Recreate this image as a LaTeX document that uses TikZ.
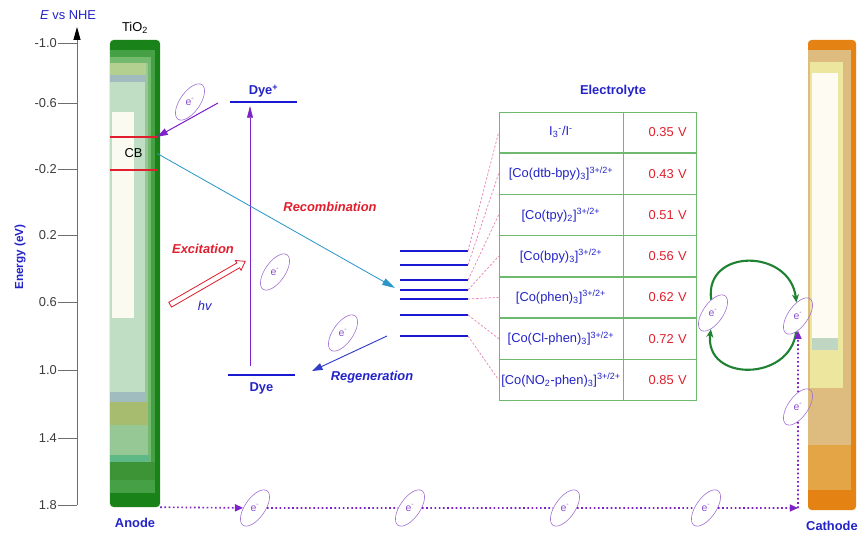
\documentclass[tikz,border=0pt]{standalone}
\usepackage{fontspec}
\setmainfont{Liberation Sans}
\usetikzlibrary{arrows.meta,positioning,shapes.geometric,shapes.arrows}
\definecolor{LabelBlue}{RGB}{35,35,200}
\definecolor{LabelRed}{RGB}{225,30,45}
\definecolor{LevelBlue}{RGB}{25,25,210}
\definecolor{RegenBlue}{RGB}{50,60,200}
\definecolor{RecombBlue}{RGB}{40,150,200}
\definecolor{ePurple}{RGB}{140,80,200}
\definecolor{ShellPurple}{RGB}{160,110,210}
\definecolor{FlowPurple}{RGB}{125,35,200}
\definecolor{TableGreen}{RGB}{110,185,110}
\definecolor{LoopGreen}{RGB}{30,130,50}
\definecolor{LinkPink}{RGB}{230,130,180}
\definecolor{AxisGray}{RGB}{110,110,110}
\definecolor{TickGray}{RGB}{60,60,60}
% anode layers
\definecolor{AnodeDeep}{RGB}{25,130,25}
\definecolor{AnodeMid}{RGB}{70,160,70}
\definecolor{AnodeSoft}{RGB}{115,185,110}
\definecolor{AnodeLight}{RGB}{150,200,150}
\definecolor{AnodeStraw}{RGB}{180,208,145}
\definecolor{AnodePale}{RGB}{192,222,196}
\definecolor{AnodeCream}{RGB}{251,250,240}
\definecolor{AnodeSlate}{RGB}{160,188,190}
\definecolor{AnodeOlive}{RGB}{168,188,112}
\definecolor{AnodeTeal}{RGB}{95,185,135}
\definecolor{AnodeDark}{RGB}{60,148,55}
% cathode layers
\definecolor{CathodeDeep}{RGB}{228,130,20}
\definecolor{CathodeTan}{RGB}{222,188,128}
\definecolor{CathodeAmber}{RGB}{228,165,70}
\definecolor{CathodeLemon}{RGB}{236,230,158}
\definecolor{CathodeWhite}{RGB}{253,251,242}
\definecolor{CathodeTeal}{RGB}{190,214,194}
\tikzset{
  tag/.style={inner sep=1pt},
  bluetag/.style={tag,text=LabelBlue,font=\fontsize{11}{13}\selectfont\bfseries},
  redtag/.style={tag,text=LabelRed,font=\fontsize{11}{13}\selectfont\bfseries\itshape},
  ticktext/.style={anchor=east,inner sep=0pt,text=TickGray},
  bar/.style={rounded corners=3pt,minimum width=1.5cm,inner sep=0pt},
  electron/.style={ellipse,draw=ShellPurple,line width=0.5pt,rotate=55,
    minimum width=1.26cm,minimum height=0.6cm,inner sep=0pt,text=ePurple,
    font=\fontsize{9}{9}\selectfont},
  level/.style={LevelBlue,line width=1.7pt},
  cell/.style={draw=TableGreen,line width=0.6pt,minimum width=3.72cm,
    minimum height=1.217cm,inner sep=0pt,text=LabelBlue},
  valcell/.style={cell,minimum width=2.19cm,text width=1.59cm,inner xsep=0.3cm,
    align=right,text=LabelRed},
  link/.style={LinkPink,line width=0.6pt,dash pattern=on 2pt off 1.5pt},
  flowline/.style={FlowPurple,line width=1.4pt,dash pattern=on 1.4pt off 2.2pt},
  flow/.style={flowline,-{Triangle[length=7pt,width=6pt]}},
  push/.style={line width=0.9pt,-{Triangle[length=9pt,width=6pt]}},
  turn/.style={LoopGreen,line width=1.8pt,-{Stealth[length=7pt,width=6pt]}},
  axis/.style={AxisGray,line width=0.7pt,-{Triangle[length=11pt,width=6pt,color=black]}}
}
\newcommand{\elec}{\rotatebox{-55}{e\textsuperscript{-}}}
\newcommand{\redox}{\textsuperscript{3+/2+}}

\begin{document}
\begin{tikzpicture}[x=0.03cm,y=-0.03cm,font=\fontsize{11}{13}\selectfont]
  \useasboundingbox (0,0) rectangle (858,540);

  % energy scale
  \draw[axis] (77,505) -- (77,27);
  \foreach \y/\e in {43/-1.0,103/-0.6,169/-0.2,235/0.2,302/0.6,370/1.0,438/1.4,505/1.8}{
    \draw[AxisGray,line width=0.6pt] (58,\y) -- (77,\y);
    \node[ticktext] (t\y) at (57,\y) {\e};
  }
  \node[tag,text=LabelBlue] (nhe) at (68,15) {\textit{E} vs NHE};
  \node[bluetag,rotate=90,font=\fontsize{10}{12}\selectfont\bfseries] (energy) at (20,257) {Energy (eV)};

  % TiO2 anode
  \node[bar,fill=AnodeDeep,minimum height=14.01cm] (anode) at (135,273.5) {};
  \fill[AnodeMid] (110,50) rectangle (155,493);
  \fill[AnodeSoft] (110,57) rectangle (151,480);
  \fill[AnodeLight] (110,63) rectangle (148,462);
  \fill[AnodeStraw] (110,63) rectangle (146,75);
  \fill[AnodeSlate] (110,75) rectangle (146,82);
  \fill[AnodePale] (110,82) rectangle (145,392);
  \fill[AnodeCream] (112,112) rectangle (134,318);
  \fill[AnodeSlate] (110,392) rectangle (145,402);
  \fill[AnodeOlive] (110,402) rectangle (148,425);
  \fill[AnodeTeal] (110,455) rectangle (150,462);
  \fill[AnodeDark] (110,462) rectangle (155,480);
  \node[tag,text=black,above=0.15cm of anode] (tio2) {TiO\textsubscript{2}};
  \node[bluetag,below=0.3cm of anode] (anodelab) {Anode};
  \node[minimum width=1.41cm,minimum height=0.99cm,inner sep=0pt] (cb) at (133.5,153.5) {CB};
  \draw[LabelRed,line width=1.6pt] (cb.north west) -- (cb.north east);
  \draw[LabelRed,line width=1.6pt] (cb.south west) -- (cb.south east);

  % counter electrode
  \node[bar,fill=CathodeDeep,minimum width=1.44cm,minimum height=14.1cm] (cathode) at (832,275) {};
  \fill[CathodeTan] (808,50) rectangle (851,445);
  \fill[CathodeAmber] (808,445) rectangle (851,490);
  \fill[CathodeLemon] (810,62) rectangle (843,388);
  \fill[CathodeWhite] (812,73) rectangle (838,338);
  \fill[CathodeTeal] (812,338) rectangle (838,350);
  \node[bluetag,below=0.3cm of cathode] (cathodelab) {Cathode};

  % dye levels
  \draw[level] (230,102) -- node[bluetag,above=2pt] (dyeplus) {Dye\textsuperscript{+}} (297,102);
  \draw[level] (228,375) -- node[bluetag,below=5pt] (dye) {Dye} (295,375);
  \coordinate (exbot) at (250,366);
  \coordinate (extop) at (250,106);
  \draw[push,FlowPurple,line width=0.6pt,-{Triangle[length=10pt,width=5pt]}] (exbot) -- (extop);
  \node[electron] (eexc) at (275,272) {\elec};
  \node[electron] (einj) at (190,102) {\elec};
  \coordinate (injstart) at (218,103);
  \draw[push,FlowPurple] (injstart) -- (cb.north east);
  \node[single arrow,draw=LabelRed,fill=white,line width=0.7pt,minimum height=2.6cm,
    inner sep=2pt,single arrow head extend=2.5pt,single arrow tip angle=70,
    rotate=30] (hvarrow) at (206,284) {};
  \node[redtag] (excitation) at (203,249) {Excitation};
  \node[tag,text=LabelBlue] (hv) at (205,306) {\textit{hv}};

  % redox levels of the electrolyte
  \draw[level] (400,251) -- (468,251) coordinate (l1);
  \draw[level] (400,265) -- (468,265) coordinate (l2);
  \draw[level] (400,280) -- (468,280) coordinate (l3);
  \draw[level] (400,290) -- (468,290) coordinate (l4);
  \draw[level] (400,299) -- (468,299) coordinate (l5);
  \draw[level] (400,315) -- (468,315) coordinate (l6);
  \draw[level] (400,336) -- (468,336) coordinate (l7);
  \coordinate (recend) at (395,288);
  \draw[push,RecombBlue,line width=0.7pt,-{Triangle[length=11pt,width=6pt]}] (cb.east) -- (recend);
  \node[redtag] (recomb) at (330,207) {Recombination};
  \node[electron] (ereg) at (343,333) {\elec};
  \coordinate (regstart) at (387,336);
  \coordinate (regend) at (312,371);
  \draw[push,RegenBlue,line width=0.8pt] (regstart) -- (regend);
  \node[bluetag,font=\fontsize{11}{13}\selectfont\bfseries\itshape] (regen) at (372,377) {Regeneration};

  % table of couples
  \node[bluetag] (electrolyte) at (613,91) {Electrolyte};
  \node[cell] (n1) at (561,132.3) {I\textsubscript{3}\textsuperscript{-}/I\textsuperscript{-}};
  \node[cell,below=0cm of n1] (n2) {[Co(dtb-bpy)\textsubscript{3}]\redox};
  \node[cell,below=0cm of n2] (n3) {[Co(tpy)\textsubscript{2}]\redox};
  \node[cell,below=0cm of n3] (n4) {[Co(bpy)\textsubscript{3}]\redox};
  \node[cell,below=0cm of n4] (n5) {[Co(phen)\textsubscript{3}]\redox};
  \node[cell,below=0cm of n5] (n6) {[Co(Cl-phen)\textsubscript{3}]\redox};
  \node[cell,below=0cm of n6] (n7) {[Co(NO\textsubscript{2}-phen)\textsubscript{3}]\redox};
  \node[valcell,right=0cm of n1] (v1) {0.35 V};
  \node[valcell,right=0cm of n2] (v2) {0.43 V};
  \node[valcell,right=0cm of n3] (v3) {0.51 V};
  \node[valcell,right=0cm of n4] (v4) {0.56 V};
  \node[valcell,right=0cm of n5] (v5) {0.62 V};
  \node[valcell,right=0cm of n6] (v6) {0.72 V};
  \node[valcell,right=0cm of n7] (v7) {0.85 V};
  \draw[link] (l1) -- (n1.west);
  \draw[link] (l2) -- (n2.west);
  \draw[link] (l3) -- (n3.west);
  \draw[link] (l4) -- (n4.west);
  \draw[link] (l5) -- (n5.west);
  \draw[link] (l6) -- (n6.west);
  \draw[link] (l7) -- (n7.west);

  % mediator loop at the cathode
  \node[electron] (eloop) at (713,313) {\elec};
  \node[electron] (ecat) at (798,316) {\elec};
  \node[electron] (ecat2) at (798,407) {\elec};
  \draw[turn] (eloop) .. controls (704,248) and (790,248) .. (ecat);
  \draw[turn] (ecat) .. controls (790,382) and (704,382) .. (eloop);

  % external circuit
  \node[electron] (b1) at (255,508) {\elec};
  \node[electron] (b2) at (410,508) {\elec};
  \node[electron] (b3) at (565,508) {\elec};
  \node[electron] (b4) at (706,508) {\elec};
  \coordinate (corner) at (798,508);
  \draw[flow] (anode.south east) -- (b1);
  \draw[flowline] (b1) -- (b2);
  \draw[flowline] (b2) -- (b3);
  \draw[flowline] (b3) -- (b4);
  \draw[flow] (b4) -- (corner);
  \draw[flowline] (corner) -- (ecat2);
  \draw[flow] (ecat2) -- (ecat);
\end{tikzpicture}
\end{document}
